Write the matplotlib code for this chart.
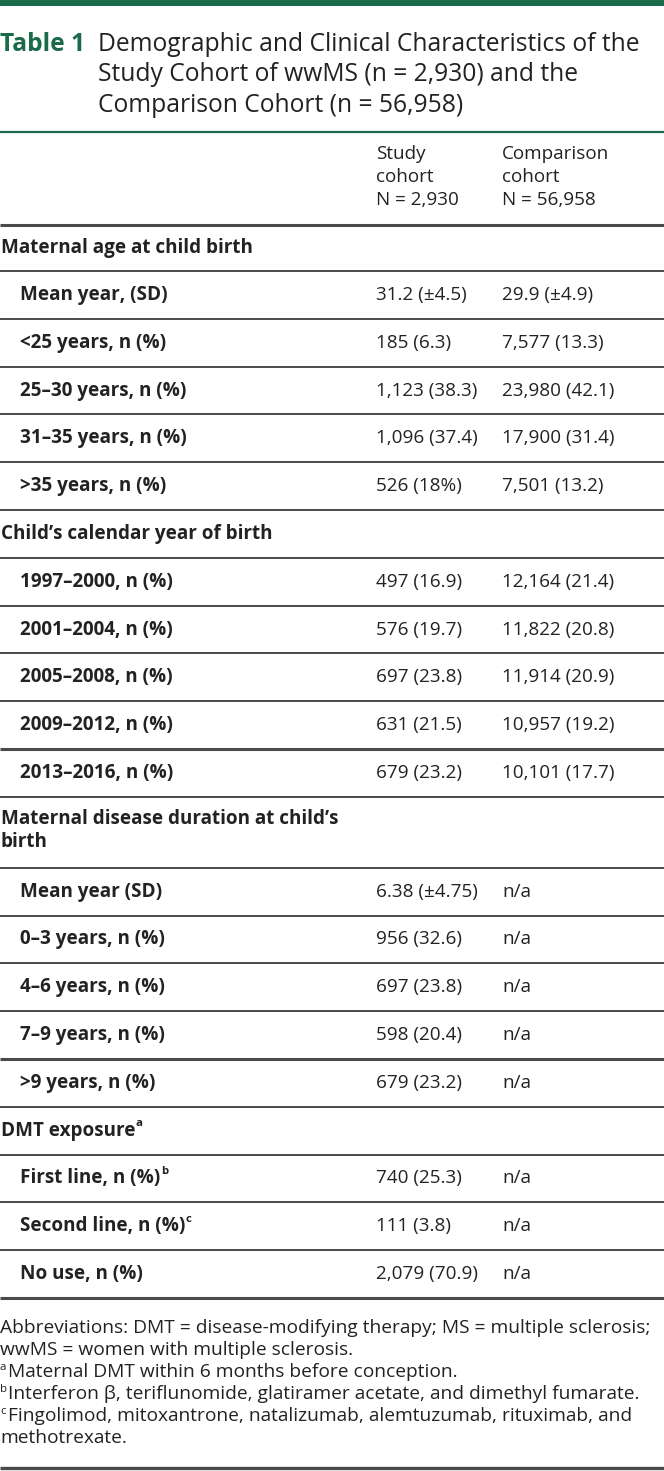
import matplotlib.pyplot as plt

plt.rcParams['font.family'] = ['Open Sans', 'DejaVu Sans']

GREEN = '#1b6b4b'
GREY = '#4a4a4a'

title_tag = 'Table 1'
title_lines = ['Demographic and Clinical Characteristics of the',
               'Study Cohort of wwMS (n = 2,930) and the',
               'Comparison Cohort (n = 56,958)']
col_heads = [['Study', 'cohort', 'N = 2,930'],
             ['Comparison', 'cohort', 'N = 56,958']]

# (label, superscript, study cohort, comparison cohort)
age_rows = [('Mean year, (SD)', '', '31.2 (±4.5)', '29.9 (±4.9)'),
            ('<25 years, n (%)', '', '185 (6.3)', '7,577 (13.3)'),
            ('25–30 years, n (%)', '', '1,123 (38.3)', '23,980 (42.1)'),
            ('31–35 years, n (%)', '', '1,096 (37.4)', '17,900 (31.4)'),
            ('>35 years, n (%)', '', '526 (18%)', '7,501 (13.2)')]
year_rows = [('1997–2000, n (%)', '', '497 (16.9)', '12,164 (21.4)'),
             ('2001–2004, n (%)', '', '576 (19.7)', '11,822 (20.8)'),
             ('2005–2008, n (%)', '', '697 (23.8)', '11,914 (20.9)'),
             ('2009–2012, n (%)', '', '631 (21.5)', '10,957 (19.2)'),
             ('2013–2016, n (%)', '', '679 (23.2)', '10,101 (17.7)')]
dur_rows = [('Mean year (SD)', '', '6.38 (±4.75)', 'n/a'),
            ('0–3 years, n (%)', '', '956 (32.6)', 'n/a'),
            ('4–6 years, n (%)', '', '697 (23.8)', 'n/a'),
            ('7–9 years, n (%)', '', '598 (20.4)', 'n/a'),
            ('>9 years, n (%)', '', '679 (23.2)', 'n/a')]
dmt_rows = [('First line, n (%)', 'b', '740 (25.3)', 'n/a'),
            ('Second line, n (%)', 'c', '111 (3.8)', 'n/a'),
            ('No use, n (%)', '', '2,079 (70.9)', 'n/a')]

sections = [('Maternal age at child birth', '', age_rows),
            ("Child’s calendar year of birth", '', year_rows),
            ("Maternal disease duration at child’s\nbirth", '', dur_rows),
            ('DMT exposure', 'a', dmt_rows)]

footnotes = [('', 'Abbreviations: DMT = disease-modifying therapy; MS = multiple sclerosis;'),
             ('', 'wwMS = women with multiple sclerosis.'),
             ('a', 'Maternal DMT within 6 months before conception.'),
             ('b', 'Interferon β, teriflunomide, glatiramer acetate, and dimethyl fumarate.'),
             ('c', 'Fingolimod, mitoxantrone, natalizumab, alemtuzumab, rituximab, and'),
             ('', 'methotrexate.')]

# rows after which a heavier rule is drawn
heavy_after = {'2009–2012, n (%)', '7–9 years, n (%)', 'No use, n (%)'}

W, H = 664, 1471
fig = plt.figure(figsize=(W / 100, H / 100), dpi=100)
ax = fig.add_axes([0, 0, 1, 1])
ax.set_xlim(0, W)
ax.set_ylim(H, 0)
ax.axis('off')
renderer = fig.canvas.get_renderer()

BODY = 13.6
FOOT = 13.8
TITLE = 17.7
X_LABEL, X_IND, X_C1, X_C2 = 1, 20, 376, 502
ROW = 47.8
INK = '#222222'


def rule(y, lw=1.4, color=GREY):
    ax.plot([0, W], [y, y], color=color, lw=lw, solid_capstyle='butt')


def put(x, y, s, sup='', bold=False, size=BODY):
    t = ax.text(x, y, s, fontsize=size, fontweight='bold' if bold else 'normal',
                color=INK, va='center', ha='left', linespacing=1.3)
    if sup:
        bb = t.get_window_extent(renderer=renderer)
        x1 = ax.transData.inverted().transform((bb.x1, 0))[0]
        ax.text(x1 + 0.5, y - 7, sup, fontsize=size * 0.6,
                fontweight='bold' if bold else 'normal', color=INK,
                va='center', ha='left')
    return t


# top bar and title
ax.add_patch(plt.Rectangle((0, 0), W, 6, color=GREEN, lw=0))
ax.text(0, 44, title_tag, fontsize=TITLE, fontweight='bold', color=GREEN,
        va='center', ha='left')
for i, line in enumerate(title_lines):
    ax.text(98, 44 + i * 30.5, line, fontsize=TITLE, color=INK,
            va='center', ha='left')
rule(132, lw=1.6, color=GREEN)

# column heads
for x, lines in zip([X_C1, X_C2], col_heads):
    for i, line in enumerate(lines):
        put(x, 154 + i * 23, line)
rule(225, lw=2.2)

y = 225
for head, hsup, rows in sections:
    nlines = head.count('\n') + 1
    h = 46 if y == 225 else (ROW if nlines == 1 else 71)
    if nlines == 1:
        put(X_LABEL, y + h / 2, head, sup=hsup, bold=True)
    else:
        for i, part in enumerate(head.split('\n')):
            put(X_LABEL, y + 22 + i * 23.5, part, bold=True)
    y += h
    rule(y)
    for label, sup, v1, v2 in rows:
        put(X_IND, y + ROW / 2, label, sup=sup, bold=True)
        put(X_C1, y + ROW / 2, v1)
        put(X_C2, y + ROW / 2, v2)
        y += ROW
        rule(y, lw=2.2 if label in heavy_after else 1.4)

# footnotes
fy = 1328
for sup, text in footnotes:
    x0 = 0
    if sup:
        ax.text(0, fy - 5, sup, fontsize=FOOT * 0.6, color=INK,
                va='center', ha='left')
        x0 = 8
    ax.text(x0, fy, text, fontsize=FOOT, color=INK, va='center', ha='left')
    fy += 22
rule(1468, lw=2.4)

fig.savefig('out.png', dpi=100)
